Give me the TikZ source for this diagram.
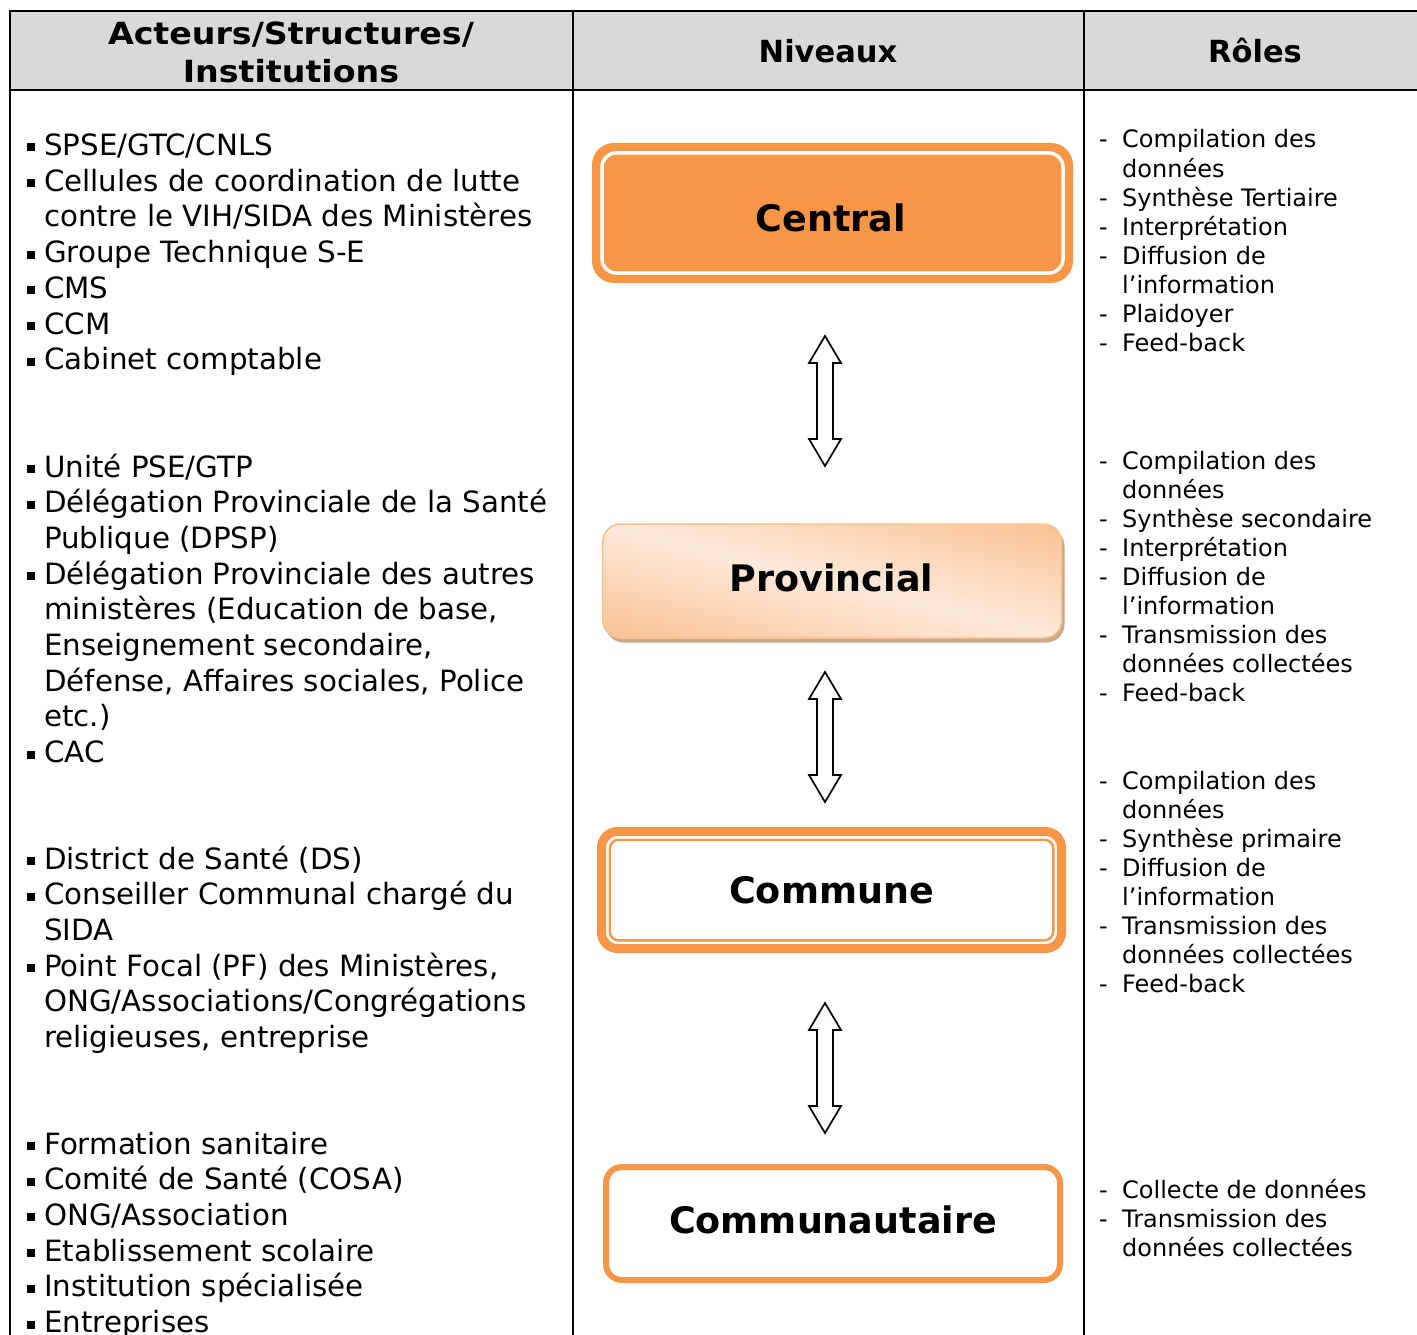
\documentclass[tikz,border=0pt]{standalone}
\usepackage{fontspec}
\setmainfont{DejaVu Sans}
\definecolor{orangeA}{HTML}{F79646}
\definecolor{peachD}{HTML}{FAC090}
\definecolor{peachL}{HTML}{FDEADB}
\definecolor{hdrgray}{HTML}{D9D9D9}
\definecolor{shadowbrown}{HTML}{C9A98E}

% one actor line with a square bullet, and its continuation line
\newcommand\actitem[3]{\node[bul] (b#1) at (31,#2-8) {}; \node[lft] (l#1) at (44,#2) {#3};}
\newcommand\actcont[3]{\node[lft] (l#1) at (44,#2) {#3};}
% one role line with a dash, and its continuation line
\newcommand\roleitem[3]{\node[rgt] (d#1) at (1099,#2-4) {-}; \node[rgt] (r#1) at (1122,#2-4) {#3};}
\newcommand\rolecont[3]{\node[rgt] (r#1) at (1122,#2-4) {#3};}

\begin{document}
\begin{tikzpicture}[x=1pt,y=-1pt,
  lft/.style={anchor=base west, inner sep=0, font=\fontsize{29.3}{35}\selectfont},
  rgt/.style={anchor=base west, inner sep=0, font=\fontsize{24}{29}\selectfont},
  bul/.style={rectangle, fill=black, inner sep=0, minimum size=8pt},
  hdr/.style={anchor=base, inner sep=0, font=\fontsize{30.5}{38}\bfseries\selectfont},
  widehdr/.style={hdr, font=\fontsize{30.5}{38}\bfseries\selectfont\addfontfeatures{FakeStretch=1.09}},
  lvl/.style={anchor=base, inner sep=0, font=\fontsize{36.5}{44}\bfseries\selectfont},
  levelbox/.style={rectangle, inner sep=0, outer sep=0},
  grid/.style={line width=2pt, black},
  dblarrow/.pic={\draw[line width=1.7pt, fill=white, line join=miter]
    (0,-65) -- (16,-38) -- (8,-38) -- (8,38) -- (16,38) -- (0,65)
    -- (-16,38) -- (-8,38) -- (-8,-38) -- (-16,-38) -- cycle;}
]
\useasboundingbox (0,0) rectangle (1417,1335);

% table frame and header band
\fill[hdrgray] (10,11) rectangle (1417,90);
\draw[grid] (1417,11) -- (10,11) -- (10,1335);
\draw[grid] (10,90) -- (1417,90);
\draw[grid] (573,11) -- (573,1335);
\draw[grid] (1084,11) -- (1084,1335);

\node[widehdr] (h1a) at (291,45) {Acteurs/Structures/};
\node[widehdr] (h1b) at (291,83) {Institutions};
\node[hdr] (h2) at (828,63) {Niveaux};
\node[hdr] (h3) at (1255,63) {Rôles};

% level boxes
\node[levelbox, fill=orangeA, rounded corners=22pt, minimum width=481pt,
  minimum height=140pt] (central) at (832.5,213) {};
\draw[white, line width=3.5pt, rounded corners=14pt]
  ([shift={(10,10)}]central.north west) rectangle ([shift={(-10,-10)}]central.south east);
\node[lvl] (centralt) at (831,231) {Central};

% provincial box: soft shadow, diagonal gradient, thin peach outline
\fill[shadowbrown, rounded corners=18pt] (605.5,528) rectangle (1064.5,642.5);
\begin{scope}
  \clip[rounded corners=18pt] (602.7,524) rectangle (1061.7,638);
  \begin{scope}[transform canvas={rotate around={-13.9:(832.2,581)}}]
    \shade[top color=peachD, bottom color=peachD, middle color=peachL]
      (582.2,469) rectangle (1082.2,693);
  \end{scope}
\end{scope}
\node[levelbox, draw=peachD, line width=1.5pt, rounded corners=18pt,
  minimum width=459pt, minimum height=114pt] (prov) at (832.2,581) {};
\node[lvl] (provt) at (831.5,591) {Provincial};

\node[levelbox, draw=orangeA, line width=9pt, fill=white, rounded corners=16pt,
  minimum width=460pt, minimum height=117pt] (commune) at (831.5,890) {};
\draw[orangeA, line width=2.4pt, rounded corners=9pt]
  ([shift={(8.2,8.2)}]commune.north west) rectangle ([shift={(-8.2,-8.2)}]commune.south east);
\node[lvl] (communet) at (831.5,903) {Commune};

\node[levelbox, draw=orangeA, line width=6pt, fill=white, rounded corners=16pt,
  minimum width=454pt, minimum height=113pt] (commu) at (833,1223.5) {};
\node[lvl] (commut) at (833,1233) {Communautaire};

% two-way links between levels
\pic at (825,401) {dblarrow};
\pic at (825,737) {dblarrow};
\pic at (825,1068) {dblarrow};

% actors
\actitem{1}{155.5}{SPSE/GTC/CNLS}
\actitem{2}{191.2}{Cellules de coordination de lutte}
\actcont{3}{226.9}{contre le VIH/SIDA des Ministères}
\actitem{4}{262.6}{Groupe Technique S-E}
\actitem{5}{298.3}{CMS}
\actitem{6}{334}{CCM}
\actitem{7}{369.7}{Cabinet comptable}

\actitem{8}{477}{Unité PSE/GTP}
\actitem{9}{512.7}{Délégation Provinciale de la Santé}
\actcont{10}{548.4}{Publique (DPSP)}
\actitem{11}{584.1}{Délégation Provinciale des autres}
\actcont{12}{619.8}{ministères (Education de base,}
\actcont{13}{655.5}{Enseignement secondaire,}
\actcont{14}{691.2}{Défense, Affaires sociales, Police}
\actcont{15}{726.9}{etc.)}
\actitem{16}{762.6}{CAC}

\actitem{17}{869}{District de Santé (DS)}
\actitem{18}{904.7}{Conseiller Communal chargé du}
\actcont{19}{940.4}{SIDA}
\actitem{20}{976.1}{Point Focal (PF) des Ministères,}
\actcont{21}{1011.8}{ONG/Associations/Congrégations}
\actcont{22}{1047.5}{religieuses, entreprise}

\actitem{23}{1154}{Formation sanitaire}
\actitem{24}{1189.7}{Comité de Santé (COSA)}
\actitem{25}{1225.4}{ONG/Association}
\actitem{26}{1261.1}{Etablissement scolaire}
\actitem{27}{1296.8}{Institution spécialisée}
\actitem{28}{1332.5}{Entreprises}

% roles
\roleitem{1}{152}{Compilation des}
\rolecont{2}{181.1}{données}
\roleitem{3}{210.2}{Synthèse Tertiaire}
\roleitem{4}{239.3}{Interprétation}
\roleitem{5}{268.4}{Diffusion de}
\rolecont{6}{297.5}{l’information}
\roleitem{7}{326.6}{Plaidoyer}
\roleitem{8}{355.7}{Feed-back}

\roleitem{9}{473}{Compilation des}
\rolecont{10}{502.1}{données}
\roleitem{11}{531.2}{Synthèse secondaire}
\roleitem{12}{560.3}{Interprétation}
\roleitem{13}{589.4}{Diffusion de}
\rolecont{14}{618.5}{l’information}
\roleitem{15}{647.6}{Transmission des}
\rolecont{16}{676.7}{données collectées}
\roleitem{17}{705.8}{Feed-back}

\roleitem{18}{793}{Compilation des}
\rolecont{19}{822.1}{données}
\roleitem{20}{851.2}{Synthèse primaire}
\roleitem{21}{880.3}{Diffusion de}
\rolecont{22}{909.4}{l’information}
\roleitem{23}{938.5}{Transmission des}
\rolecont{24}{967.6}{données collectées}
\roleitem{25}{996.7}{Feed-back}

\roleitem{26}{1202}{Collecte de données}
\roleitem{27}{1231.1}{Transmission des}
\rolecont{28}{1260.2}{données collectées}
\end{tikzpicture}
\end{document}
